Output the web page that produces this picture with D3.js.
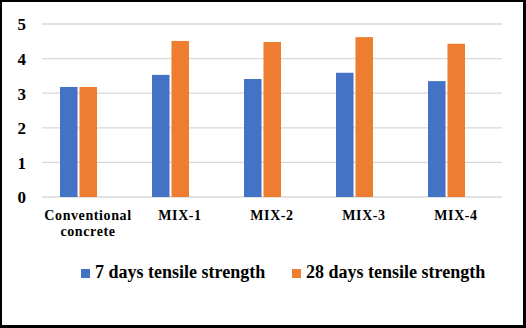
<!DOCTYPE html>
<html>
<head>
<meta charset="utf-8">
<script src="https://cdn.jsdelivr.net/npm/d3@7"></script>
<style>
  html, body { margin: 0; padding: 0; background: #fff; }
  svg { display: block; }
  svg text { font-family: "Liberation Serif", serif !important; font-weight: bold; fill: #000; }
</style>
</head>
<body>
<svg id="chart" width="526" height="328"></svg>
<script>
const categories = [["Conventional", "concrete"], ["MIX-1"], ["MIX-2"], ["MIX-3"], ["MIX-4"]];
const seriesNames = ["7 days tensile strength", "28 days tensile strength"];
const days7 = [3.18, 3.53, 3.41, 3.59, 3.35];
const days28 = [3.18, 4.51, 4.48, 4.62, 4.43];
const yTicks = [0, 1, 2, 3, 4, 5];
const colors = ["#4472C4", "#ED7D31"];

const svg = d3.select("#chart");
const W = 526, H = 328;

// outer frame
svg.append("rect").attr("x", 0).attr("y", 0).attr("width", W).attr("height", H).attr("fill", "#000");
svg.append("rect").attr("x", 2).attr("y", 2).attr("width", W - 5).attr("height", H - 5).attr("fill", "#fff");

const plot = { left: 42, right: 502, top: 24, bottom: 197 };
const catKeys = categories.map(c => c.join(" "));
const x = d3.scaleBand().domain(catKeys).range([plot.left, plot.right]);
const y = d3.scaleLinear().domain([0, 5]).range([plot.bottom, plot.top]);
const sub = d3.scaleBand().domain([0, 1]).range([18, 55]).paddingInner(0.1);

// gridlines
svg.append("g").selectAll("line").data(yTicks).join("line")
  .attr("x1", plot.left).attr("x2", plot.right)
  .attr("y1", d => y(d)).attr("y2", d => y(d))
  .attr("stroke", "#d9d9d9").attr("stroke-width", 1.3);

// y axis labels
const yAxis = d3.axisLeft(y).tickValues(yTicks).tickSize(0).tickPadding(0).tickFormat(d3.format("d"));
const ya = svg.append("g").attr("transform", "translate(26,0)").call(yAxis);
ya.select(".domain").remove();
ya.attr("font-family", "Liberation Serif");
ya.selectAll("text").style("font-size", "17px").attr("dy", "0.35em").attr("fill", "#000");

// bars
const series = [days7, days28];
series.forEach((vals, si) => {
  svg.append("g").selectAll("rect").data(vals).join("rect")
    .attr("x", (d, i) => x(catKeys[i]) + sub(si))
    .attr("width", sub.bandwidth())
    .attr("y", d => y(d))
    .attr("height", d => y(0) - y(d))
    .attr("fill", colors[si]);
});

// category labels
const cl = svg.append("g").selectAll("text").data(categories).join("text")
  .attr("text-anchor", "middle")
  .attr("x", (d, i) => x(catKeys[i]) + x.bandwidth() / 2)
  .attr("y", 220)
  .style("font-size", "14px")
  .style("letter-spacing", "0.6px");
cl.selectAll("tspan").data(d => d).join("tspan")
  .attr("x", function() { return d3.select(this.parentNode).attr("x"); })
  .attr("dy", (d, j) => j === 0 ? 0 : 16)
  .text(d => d);

// legend
const legendX = [81, 292];
const lg = svg.append("g").selectAll("g").data(seriesNames).join("g")
  .attr("transform", (d, i) => `translate(${legendX[i]},0)`);
lg.append("rect").attr("x", 0).attr("y", 269).attr("width", 9).attr("height", 9)
  .attr("fill", (d, i) => colors[i]);
lg.append("text").attr("x", 14).attr("y", 278).style("font-size", "18px").text(d => d);
</script>
</body>
</html>
